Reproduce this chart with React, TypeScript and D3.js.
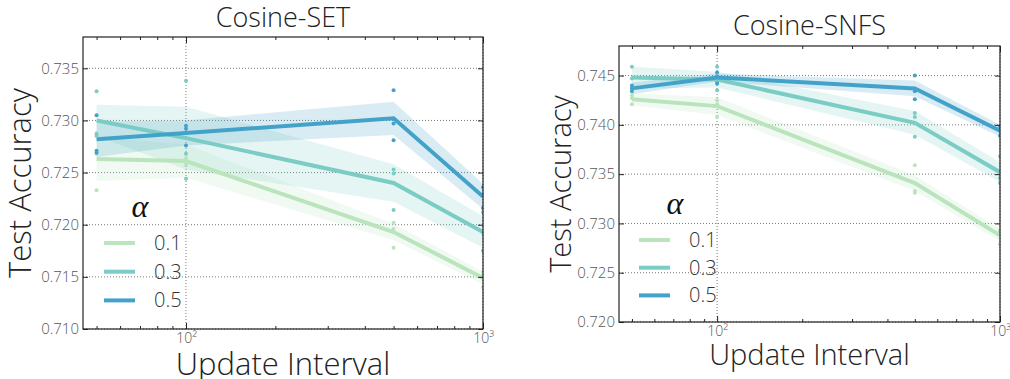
import { useEffect, useRef } from 'react';
import * as d3 from 'd3';

// update intervals (x) and the alpha values of the three series
const intervals = [50, 100, 500, 1000];
const alphas = ['0.1', '0.3', '0.5'];
const colors = ['#bae4bc', '#7bccc4', '#43a2ca'];
const minorTicks = [50, 60, 70, 80, 90, 200, 300, 400, 500, 600, 700, 800, 900];
const majorTicks = [100, 1000];

// Cosine-SET
const setMean01 = [0.7263, 0.7261, 0.7193, 0.7149];
const setMean03 = [0.7300, 0.7283, 0.7240, 0.7193];
const setMean05 = [0.7282, 0.7288, 0.7302, 0.7227];
const setCi01 = [0.0021, 0.0016, 0.0008, 0.0006];
const setCi03 = [0.0015, 0.0030, 0.0018, 0.0015];
const setCi05 = [0.0017, 0.0012, 0.0016, 0.0012];
const setPts01 = [[0.7288, 0.7268, 0.7233], [0.7264, 0.7261, 0.7258], [0.7202, 0.7196, 0.7178], [0.7155, 0.7151, 0.7140]];
const setPts03 = [[0.7328, 0.7287, 0.7285], [0.7338, 0.7268, 0.7244], [0.7253, 0.7249, 0.7214], [0.7212, 0.7192, 0.7175]];
const setPts05 = [[0.7305, 0.7271, 0.7269], [0.7295, 0.7292, 0.7276], [0.7329, 0.7297, 0.7281], [0.7236, 0.7229, 0.7216]];
const setTicks = [0.710, 0.715, 0.720, 0.725, 0.730, 0.735];

// Cosine-SNFS
const snfsMean01 = [0.7426, 0.7419, 0.7341, 0.7288];
const snfsMean03 = [0.7448, 0.7446, 0.7402, 0.7352];
const snfsMean05 = [0.7437, 0.7448, 0.7437, 0.7394];
const snfsCi01 = [0.0006, 0.0009, 0.0008, 0.0006];
const snfsCi03 = [0.0011, 0.0008, 0.0012, 0.0010];
const snfsCi05 = [0.0006, 0.0004, 0.0008, 0.0006];
const snfsPts01 = [[0.7430, 0.7427, 0.7421], [0.7425, 0.7421, 0.7408], [0.7359, 0.7333, 0.7331], [0.7293, 0.7291, 0.7279]];
const snfsPts03 = [[0.7459, 0.7447, 0.7438], [0.7459, 0.7444, 0.7435], [0.7412, 0.7408, 0.7388], [0.7368, 0.7346, 0.7341]];
const snfsPts05 = [[0.7440, 0.7437, 0.7434], [0.7453, 0.7449, 0.7442], [0.7450, 0.7434, 0.7426], [0.7398, 0.7394, 0.7389]];
const snfsTicks = [0.720, 0.725, 0.730, 0.735, 0.740, 0.745];

const FONT = '"Open Sans", sans-serif';

interface PanelProps {
    id: string;
    title: string;
    means: number[][];
    cis: number[][];
    points: number[][][];
    yDomain: [number, number];
    yTicks: number[];
    box: { left: number; top: number; right: number; bottom: number };
    titleY: number;
    labelSize: number;
    yLabelX: number;
    xLabelY: number;
    legend: { x: number; y: number; step: number };
}

function drawPanel(root: d3.Selection<SVGGElement, unknown, null, undefined>, p: PanelProps) {
    const { left, top, right, bottom } = p.box;
    const x = d3.scaleLog().domain([45, 1000]).range([left, right]);
    const y = d3.scaleLinear().domain(p.yDomain).range([bottom, top]);

    root.append('clipPath').attr('id', p.id)
        .append('rect').attr('x', left).attr('y', top).attr('width', right - left).attr('height', bottom - top);

    // Grid
    const grid = root.append('g').attr('stroke', '#777').attr('stroke-width', 1).attr('stroke-dasharray', '1,2');
    grid.selectAll('line.gy').data(p.yTicks).enter().append('line')
        .attr('x1', left).attr('x2', right)
        .attr('y1', d => y(d)).attr('y2', d => y(d));
    grid.selectAll('line.gx').data(majorTicks).enter().append('line')
        .attr('x1', d => x(d)).attr('x2', d => x(d))
        .attr('y1', top).attr('y2', bottom);

    // Series: bands, mean lines, seed points
    const plot = root.append('g').attr('clip-path', `url(#${p.id})`);
    const area = d3.area<number>()
        .x((_, i) => x(intervals[i]));
    const line = d3.line<number>()
        .x((_, i) => x(intervals[i]))
        .y(d => y(d));

    p.means.forEach((m, s) => {
        plot.append('path')
            .attr('d', area.y0((d, i) => y(d - p.cis[s][i])).y1((d, i) => y(d + p.cis[s][i]))(m))
            .attr('fill', colors[s]).attr('fill-opacity', 0.2);
    });
    p.means.forEach((m, s) => {
        plot.append('path')
            .attr('d', line(m))
            .attr('fill', 'none').attr('stroke', colors[s]).attr('stroke-width', 4);
    });
    p.points.forEach((pts, s) => {
        const flat = pts.flatMap((vals, i) => vals.map(v => ({ x: intervals[i], v })));
        plot.selectAll(null).data(flat).enter().append('circle')
            .attr('cx', d => x(d.x)).attr('cy', d => y(d.v)).attr('r', 2)
            .attr('fill', colors[s]);
    });

    // Axes, ticks inward
    const tickStyle = (g: d3.Selection<SVGGElement, unknown, null, undefined>) => {
        g.select('.domain').remove();
        g.selectAll('.tick line').attr('stroke', '#222');
        g.selectAll('.tick text').attr('fill', '#555').style('font-family', FONT).style('font-weight', 300).style('font-size', '15px');
    };
    root.append('g').attr('transform', `translate(${left},0)`)
        .call(d3.axisLeft(y).tickValues(p.yTicks).tickFormat(d3.format('.3f')).tickSize(-5).tickPadding(4))
        .call(tickStyle);
    root.append('g').attr('transform', `translate(${right},0)`)
        .call(d3.axisRight(y).tickValues(p.yTicks).tickFormat(() => '').tickSize(-5))
        .call(tickStyle);
    root.append('g').attr('transform', `translate(0,${bottom})`)
        .call(d3.axisBottom(x).tickValues(minorTicks).tickFormat(() => '').tickSize(-3))
        .call(tickStyle);
    root.append('g').attr('transform', `translate(0,${top})`)
        .call(d3.axisTop(x).tickValues(minorTicks).tickFormat(() => '').tickSize(-3))
        .call(tickStyle);
    root.append('g').attr('transform', `translate(0,${bottom})`)
        .call(d3.axisBottom(x).tickValues(majorTicks).tickFormat(d => (d === 100 ? '10²' : '10³')).tickSize(-6).tickPadding(4))
        .call(tickStyle)
        .call(g => g.selectAll('.tick text').style('font-size', '14px'));
    root.append('g').attr('transform', `translate(0,${top})`)
        .call(d3.axisTop(x).tickValues(majorTicks).tickFormat(() => '').tickSize(-6))
        .call(tickStyle);

    // Frame
    root.append('rect')
        .attr('x', left).attr('y', top).attr('width', right - left).attr('height', bottom - top)
        .attr('fill', 'none').attr('stroke', '#222').attr('stroke-width', 1.2);

    // Titles and labels
    const text = (tx: number, ty: number, s: string, size: number) =>
        root.append('text').attr('x', tx).attr('y', ty).text(s)
            .attr('text-anchor', 'middle').attr('fill', '#222')
            .style('font-family', FONT).style('font-weight', 300).style('font-size', `${size}px`);

    const cx = (left + right) / 2;
    text(cx, p.titleY, p.title, 27);
    text(cx, p.xLabelY, 'Update Interval', p.labelSize);
    text(0, 0, 'Test Accuracy', p.labelSize)
        .attr('transform', `translate(${p.yLabelX},${(top + bottom) / 2}) rotate(-90)`);

    // Legend
    const lg = root.append('g');
    lg.append('text').attr('x', p.legend.x + 36).attr('y', p.legend.y - 26).text('α')
        .attr('text-anchor', 'middle').attr('fill', '#111')
        .style('font-family', '"Liberation Serif", serif').style('font-style', 'italic').style('font-size', '32px');
    alphas.forEach((a, i) => {
        const ly = p.legend.y + i * p.legend.step;
        lg.append('line').attr('x1', p.legend.x).attr('x2', p.legend.x + 31)
            .attr('y1', ly).attr('y2', ly).attr('stroke', colors[i]).attr('stroke-width', 4);
        lg.append('text').attr('x', p.legend.x + 50).attr('y', ly + 7).text(a)
            .attr('fill', '#333').style('font-family', FONT).style('font-weight', 300).style('font-size', '20px');
    });
}

function Panel(props: PanelProps) {
    const gRef = useRef<SVGGElement>(null);

    useEffect(() => {
        if (!gRef.current) return;
        const root = d3.select(gRef.current);
        root.selectAll('*').remove();
        drawPanel(root, props);
    }, [props]);

    return <g ref={gRef} />;
}

export default function App() {
    return (
        <svg width={1010} height={379} style={{ position: 'absolute', left: 0, top: 0, background: '#fff' }}>
            <Panel
                id="clip-set"
                title="Cosine-SET"
                means={[setMean01, setMean03, setMean05]}
                cis={[setCi01, setCi03, setCi05]}
                points={[setPts01, setPts03, setPts05]}
                yDomain={[0.710, 0.738]}
                yTicks={setTicks}
                box={{ left: 83, top: 37, right: 483, bottom: 329 }}
                titleY={27}
                labelSize={31}
                yLabelX={31}
                xLabelY={375}
                legend={{ x: 104, y: 243, step: 28.7 }}
            />
            <Panel
                id="clip-snfs"
                title="Cosine-SNFS"
                means={[snfsMean01, snfsMean03, snfsMean05]}
                cis={[snfsCi01, snfsCi03, snfsCi05]}
                points={[snfsPts01, snfsPts03, snfsPts05]}
                yDomain={[0.720, 0.748]}
                yTicks={snfsTicks}
                box={{ left: 619, top: 46, right: 1000, bottom: 322 }}
                titleY={35}
                labelSize={29}
                yLabelX={571}
                xLabelY={365}
                legend={{ x: 639, y: 240, step: 27.7 }}
            />
        </svg>
    );
}
